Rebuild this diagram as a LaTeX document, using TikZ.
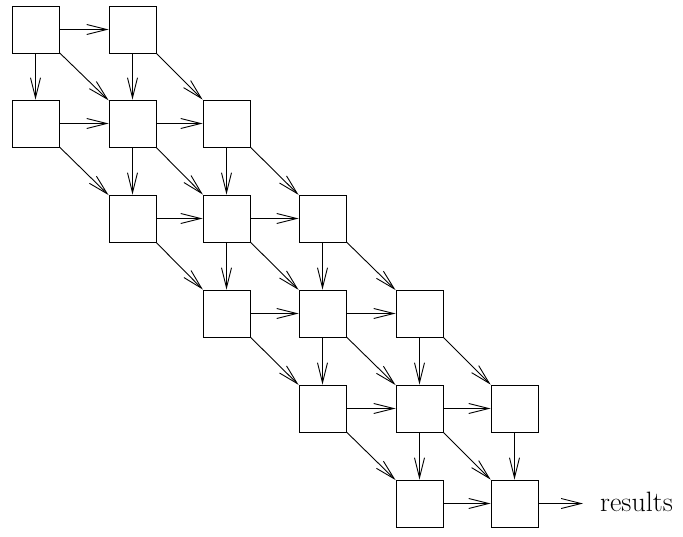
\documentclass[tikz,border=0pt]{standalone}
\usetikzlibrary{arrows.meta}
\begin{document}
\begin{tikzpicture}[x=1pt, y=-1pt,
	cell/.style={rectangle, draw, line width=0.9pt, minimum size=47pt, inner sep=0pt},
	flow/.style={line width=0.9pt, -{Straight Barb[length=20pt, width=10pt]}}]
	\useasboundingbox (0,0) rectangle (683,536);
	% row 0
	\node[cell] (n00) at (35.5,29.5) {};
	\node[cell] (n01) at (132.5,29.5) {};
	% row 1
	\node[cell] (n10) at (35.5,123.5) {};
	\node[cell] (n11) at (132.5,123.5) {};
	\node[cell] (n12) at (226.5,123.5) {};
	% row 2
	\node[cell] (n21) at (132.5,218.5) {};
	\node[cell] (n22) at (226.5,218.5) {};
	\node[cell] (n23) at (322.5,218.5) {};
	% row 3
	\node[cell] (n32) at (226.5,313.5) {};
	\node[cell] (n33) at (322.5,313.5) {};
	\node[cell] (n34) at (419.5,313.5) {};
	% row 4
	\node[cell] (n43) at (322.5,408.5) {};
	\node[cell] (n44) at (419.5,408.5) {};
	\node[cell] (n45) at (514.5,408.5) {};
	% row 5
	\node[cell] (n54) at (419.5,503.5) {};
	\node[cell] (n55) at (514.5,503.5) {};
	\node[anchor=base west, inner sep=0pt, font=\fontsize{28}{32}\selectfont] (res) at (600,511) {results};
	\coordinate (resin) at (583,503.5);

	% across
	\draw[flow] (n00) -- (n01);
	\draw[flow] (n10) -- (n11);
	\draw[flow] (n11) -- (n12);
	\draw[flow] (n21) -- (n22);
	\draw[flow] (n22) -- (n23);
	\draw[flow] (n32) -- (n33);
	\draw[flow] (n33) -- (n34);
	\draw[flow] (n43) -- (n44);
	\draw[flow] (n44) -- (n45);
	\draw[flow] (n54) -- (n55);
	\draw[flow] (n55) -- (resin);
	% down
	\draw[flow] (n00) -- (n10);
	\draw[flow] (n01) -- (n11);
	\draw[flow] (n11) -- (n21);
	\draw[flow] (n12) -- (n22);
	\draw[flow] (n22) -- (n32);
	\draw[flow] (n23) -- (n33);
	\draw[flow] (n33) -- (n43);
	\draw[flow] (n34) -- (n44);
	\draw[flow] (n44) -- (n54);
	\draw[flow] (n45) -- (n55);
	% diagonal
	\draw[flow] (n00) -- (n11);
	\draw[flow] (n01) -- (n12);
	\draw[flow] (n10) -- (n21);
	\draw[flow] (n11) -- (n22);
	\draw[flow] (n12) -- (n23);
	\draw[flow] (n21) -- (n32);
	\draw[flow] (n22) -- (n33);
	\draw[flow] (n23) -- (n34);
	\draw[flow] (n32) -- (n43);
	\draw[flow] (n33) -- (n44);
	\draw[flow] (n34) -- (n45);
	\draw[flow] (n43) -- (n54);
	\draw[flow] (n44) -- (n55);
\end{tikzpicture}
\end{document}
